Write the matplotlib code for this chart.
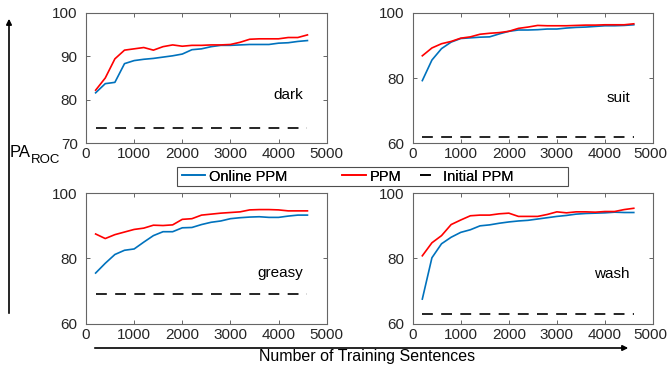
import matplotlib
matplotlib.use("Agg")
import matplotlib.pyplot as plt
from matplotlib.patches import FancyArrowPatch, Rectangle
from matplotlib.transforms import ScaledTranslation

plt.rcParams['font.family'] = ['Liberation Sans', 'DejaVu Sans']
plt.rcParams['font.size'] = 11

sizes = list(range(200, 4601, 200))

dark_ppm = [82.2, 85.0, 89.4, 91.4, 91.7, 92.0, 91.4, 92.2, 92.6, 92.3, 92.5, 92.5,
            92.6, 92.6, 92.7, 93.2, 93.9, 94.0, 94.0, 94.0, 94.3, 94.3, 94.9]
dark_online = [81.6, 83.7, 84.0, 88.3, 89.0, 89.3, 89.5, 89.8, 90.1, 90.5, 91.5, 91.7,
               92.2, 92.5, 92.5, 92.6, 92.7, 92.7, 92.7, 93.0, 93.1, 93.4, 93.6]
dark_init = 73.5

suit_ppm = [86.8, 89.2, 90.5, 91.2, 92.2, 92.6, 93.4, 93.7, 93.9, 94.3, 95.2, 95.6,
            96.1, 96.0, 96.0, 96.0, 96.1, 96.2, 96.2, 96.3, 96.3, 96.3, 96.6]
suit_online = [79.2, 85.5, 89.0, 91.0, 92.1, 92.3, 92.5, 92.6, 93.5, 94.3, 94.7, 94.7,
               94.8, 95.0, 95.0, 95.3, 95.5, 95.6, 95.8, 96.0, 96.0, 96.1, 96.3]
suit_init = 62.0

greasy_ppm = [87.5, 86.1, 87.3, 88.1, 88.9, 89.3, 90.2, 90.1, 90.3, 92.0, 92.2, 93.3,
              93.6, 93.9, 94.1, 94.3, 94.9, 95.0, 95.0, 94.9, 94.6, 94.6, 94.6]
greasy_online = [75.5, 78.5, 81.2, 82.5, 82.9, 85.0, 87.0, 88.2, 88.2, 89.4, 89.5, 90.4,
                 91.1, 91.5, 92.2, 92.5, 92.7, 92.8, 92.6, 92.6, 93.0, 93.3, 93.3]
greasy_init = 69.2

wash_ppm = [80.8, 84.8, 87.0, 90.4, 91.8, 93.1, 93.3, 93.3, 93.7, 93.9, 92.9, 92.9,
            92.9, 93.5, 94.3, 94.0, 94.3, 94.3, 94.2, 94.4, 94.4, 95.0, 95.4]
wash_online = [67.5, 80.2, 84.5, 86.5, 88.0, 88.8, 90.0, 90.3, 90.8, 91.2, 91.5, 91.7,
               92.1, 92.5, 92.9, 93.2, 93.6, 93.8, 93.9, 94.0, 94.2, 94.1, 94.1]
wash_init = 63.0

panels = [
    ("dark", dark_online, dark_ppm, dark_init, (70, 100), [70, 80, 90, 100], 81.0),
    ("suit", suit_online, suit_ppm, suit_init, (60, 100), [60, 80, 100], 73.8),
    ("greasy", greasy_online, greasy_ppm, greasy_init, (60, 100), [60, 80, 100], 75.6),
    ("wash", wash_online, wash_ppm, wash_init, (60, 100), [60, 80, 100], 75.1),
]

W, H = 668, 368
fig = plt.figure(figsize=(W / 100, H / 100), dpi=100)

# pixel boxes: left, top, right, bottom
boxes = [(86, 12.7, 326.7, 143.3), (412.7, 12.7, 653, 143.3),
         (86, 193.3, 326.7, 323.5), (412.7, 193.3, 653, 323.5)]

blue = '#0072BD'
red = '#FF0000'
tick_col = '#262626'
dash = (0, (6.5, 5))

for i, ((name, online, ppm, init, ylim, yticks, ylab), (l, t, r, b)) in enumerate(zip(panels, boxes)):
    ax = fig.add_axes([l / W, 1 - b / H, (r - l) / W, (b - t) / H])
    ax.plot(sizes, online, color=blue, lw=1.2, label='Online PPM')
    ax.plot(sizes, ppm, color=red, lw=1.2, label='PPM')
    ax.plot(sizes, [init] * len(sizes), color='black', lw=1.2, ls=dash,
            label='Initial PPM')
    ax.set_xlim(0, 5000)
    ax.set_ylim(*ylim)
    ax.set_xticks([0, 1000, 2000, 3000, 4000, 5000])
    ax.set_yticks(yticks)
    ax.tick_params(direction='in', top=True, right=True, length=3, width=0.6,
                   colors='0.3', labelcolor=tick_col, labelsize=11)
    ax.tick_params(axis='x', pad=3)
    ax.tick_params(axis='y', pad=6)
    for s in ax.spines.values():
        s.set_color('0.4')
        s.set_linewidth(0.8)
    if i % 2 == 1:
        # keep the last tick label inside the figure edge
        lab = ax.get_xticklabels()[-1]
        lab.set_transform(lab.get_transform() + ScaledTranslation(-3 / 100, 0, fig.dpi_scale_trans))
    ax.text(4520, ylab, name, ha='right', va='center', fontsize=11, color='black')
    handles, labels = ax.get_legend_handles_labels()

# legend: frame plus three entries placed like the original
fig.add_artist(Rectangle((177 / W, 1 - 186.5 / H), (568 - 177) / W, 19.5 / H,
                         transform=fig.transFigure, fill=False, ec='0.3', lw=0.8))
for h, lab, x0, hl in zip(handles, labels, [182, 342, 420], [23, 24, 19]):
    lg = fig.legend([h], [lab], loc='center left',
                    bbox_to_anchor=(x0 / W, 1 - 176.5 / H), frameon=False,
                    fontsize=10.5, handlelength=hl / 14.6, handletextpad=0.25,
                    borderpad=0, borderaxespad=0)
    fig.add_artist(lg)

# axis arrows
fig.add_artist(FancyArrowPatch(
    (9 / W, 1 - 316 / H), (9 / W, 1 - 16 / H), transform=fig.transFigure,
    arrowstyle='-|>', mutation_scale=8, lw=1.2, color='black'))
fig.add_artist(FancyArrowPatch(
    (92 / W, 1 - 348 / H), (631 / W, 1 - 348 / H), transform=fig.transFigure,
    arrowstyle='-|>', mutation_scale=8, lw=1.2, color='black'))

fig.text(10 / W, 1 - 157 / H, 'PA', ha='left', va='baseline', fontsize=12)
fig.text(31 / W, 1 - 163 / H, 'ROC', ha='left', va='baseline', fontsize=9.5)
fig.text(367 / W, 1 - 357 / H, 'Number of Training Sentences', ha='center',
         va='center', fontsize=11.5)

fig.savefig('out.png', dpi=100)
